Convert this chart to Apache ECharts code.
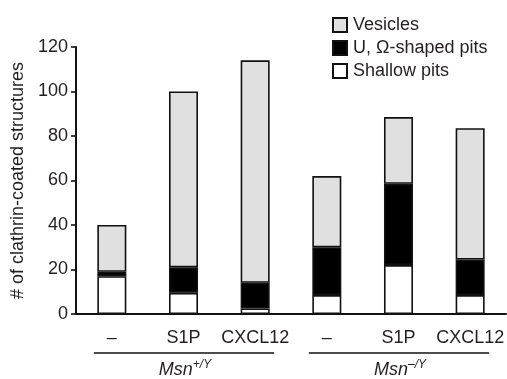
<!DOCTYPE html>
<html><head><meta charset="utf-8">
<script src="https://cdn.jsdelivr.net/npm/echarts@6/dist/echarts.min.js"></script>
<style>html,body{margin:0;padding:0;background:#fff}#c{width:507px;height:379px}</style>
</head><body><div id="c"></div>
<script>
const categories = ['–', 'S1P', 'CXCL12', '–', 'S1P', 'CXCL12'];
const shallowPits = [17, 9.5, 2.5, 8.5, 22, 8.5];
const uShapedPits = [2, 11.5, 11.5, 21.5, 36.5, 16];
const vesicles = [21, 79, 100, 32, 30, 59];
const yTicks = [0, 20, 40, 60, 80, 100, 120];
const groups = [
  {label: 'Msn', sup: '+/Y', from: 0, to: 2},
  {label: 'Msn', sup: '–/Y', from: 3, to: 5}
];

const FONT = 'Liberation Sans, Arial, Helvetica, sans-serif';
const TXT = '#231f20';
const FS = 18;
const chart = echarts.init(document.getElementById('c'));
const border = {borderColor: '#111', borderWidth: 1.6};
function bar(name, data, color) {
  return {name, type: 'bar', stack: 'a', data, barWidth: 29,
    itemStyle: Object.assign({color}, border)};
}
chart.setOption({
  animation: false,
  textStyle: {fontFamily: FONT},
  grid: {left: 76, top: 47, width: 432, bottom: 65, containLabel: false},
  legend: {
    orient: 'vertical', left: 327, top: 11, itemWidth: 14, itemHeight: 14, itemGap: 5,
    data: ['Vesicles', 'U, Ω-shaped pits', 'Shallow pits'],
    textStyle: {fontSize: FS, color: TXT, fontFamily: FONT, padding: [0, 0, 0, 1]},
    icon: 'rect'
  },
  xAxis: {
    type: 'category', data: categories,
    axisLine: {lineStyle: {color: '#111', width: 2}},
    axisTick: {inside: true, length: 6, lineStyle: {color: '#111', width: 1.6}},
    axisLabel: {interval: 0, fontSize: FS, color: TXT, margin: 15, fontFamily: FONT}
  },
  yAxis: {
    type: 'value', min: yTicks[0], max: yTicks[yTicks.length - 1], interval: 20,
    name: '# of clathrin-coated structures', nameLocation: 'middle', nameGap: 40,
    nameTextStyle: {fontSize: FS, color: TXT, fontFamily: FONT},
    axisLine: {show: true, lineStyle: {color: '#111', width: 2}},
    axisTick: {show: true, length: 5, lineStyle: {color: '#111', width: 1.6}},
    axisLabel: {fontSize: FS, color: TXT, margin: 8, fontFamily: FONT},
    splitLine: {show: false}
  },
  series: [
    bar('Shallow pits', shallowPits, '#ffffff'),
    bar('U, Ω-shaped pits', uShapedPits, '#000000'),
    bar('Vesicles', vesicles, '#e0e0e0')
  ]
});
const graphics = [];
groups.forEach(g => {
  const x0 = chart.convertToPixel({xAxisIndex: 0}, g.from) - 18;
  const x1 = chart.convertToPixel({xAxisIndex: 0}, g.to) + 19;
  const y = 353;
  graphics.push({type: 'line', shape: {x1: x0, y1: y, x2: x1, y2: y}, style: {stroke: '#111', lineWidth: 1.6}});
  graphics.push({type: 'text', x: (x0 + x1) / 2 + 1, y: 370,
    style: {text: '{m|' + g.label + '}{s|' + g.sup + '}', align: 'center', verticalAlign: 'middle',
      rich: {m: {fontSize: FS, fontStyle: 'italic', fill: TXT, color: TXT, fontFamily: FONT},
             s: {fontSize: 12, fontStyle: 'italic', fill: TXT, color: TXT, fontFamily: FONT, verticalAlign: 'top', padding: [0, 0, 10, 0]}}}});
});
chart.setOption({graphic: graphics});
</script></body></html>
